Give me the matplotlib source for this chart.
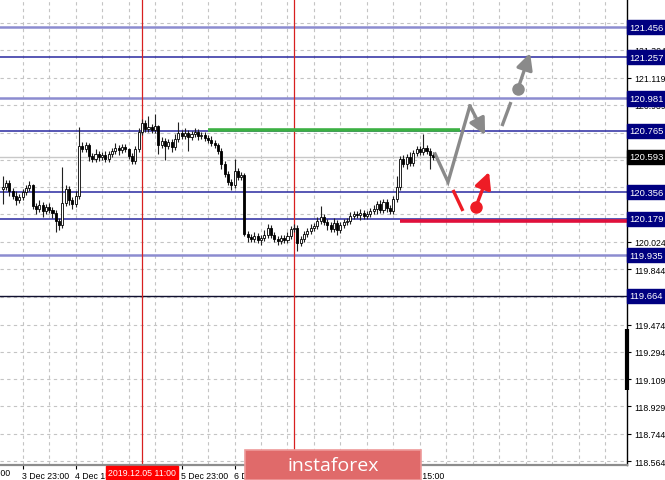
import matplotlib
matplotlib.use("Agg")
import matplotlib.pyplot as plt
from matplotlib.patches import Rectangle
import matplotlib.transforms as mtransforms

# ---- data (H1 candles, index 0 = 3 Dec 17:00) ----
first_open = 120.380
closes = [
    120.391, 120.417, 120.364, 120.331, 120.304, 120.324, 120.357, 120.384, 120.404, 120.264,
    120.244, 120.271, 120.231, 120.257, 120.237, 120.217, 120.164, 120.137, 120.284, 120.377,
    120.304, 120.277, 120.331, 120.664, 120.644, 120.671, 120.597, 120.577, 120.611, 120.591,
    120.604, 120.577, 120.611, 120.631, 120.651, 120.637, 120.657, 120.644, 120.597, 120.564,
    120.644, 120.757, 120.817, 120.777, 120.791, 120.771, 120.797, 120.671, 120.697, 120.664,
    120.691, 120.657, 120.711, 120.751, 120.731, 120.751, 120.724, 120.744, 120.757, 120.731,
    120.737, 120.717, 120.704, 120.684, 120.671, 120.631, 120.544, 120.477, 120.424, 120.404,
    120.497, 120.457, 120.471, 120.077, 120.057, 120.044, 120.064, 120.037, 120.051, 120.071,
    120.117, 120.071, 120.044, 120.031, 120.051, 120.037, 120.064, 120.111, 120.117, 120.017,
    120.044, 120.077, 120.097, 120.117, 120.131, 120.164, 120.191, 120.157, 120.137, 120.111,
    120.151, 120.104, 120.137, 120.157, 120.164, 120.197, 120.211, 120.204, 120.217, 120.197,
    120.211, 120.231, 120.244, 120.277, 120.237, 120.291, 120.251, 120.231, 120.311, 120.391,
    120.577, 120.544, 120.591, 120.551, 120.617, 120.644, 120.624, 120.651, 120.631, 120.604,
    120.593,
]
wick_up = [
    .07, .02, .02, .02, .03, .02, .02, .02, .03, .01,
    .02, .03, .02, .02, .03, .02, .02, .02, .24, .03,
    .02, .02, .03, .13, .03, .02, .01, .02, .03, .02,
    .02, .03, .02, .02, .03, .02, .02, .02, .01, .02,
    .02, .03, .03, .02, .07, .02, .08, .01, .03, .02,
    .02, .02, .03, .07, .02, .03, .02, .02, .03, .02,
    .02, .02, .02, .03, .02, .01, .02, .02, .02, .02,
    .08, .02, .02, .01, .02, .02, .03, .02, .02, .03,
    .03, .02, .02, .02, .02, .02, .03, .02, .03, .02,
    .02, .02, .02, .03, .02, .03, .07, .02, .02, .02,
    .03, .02, .02, .02, .02, .03, .02, .02, .03, .02,
    .02, .02, .03, .02, .03, .02, .02, .02, .02, .07,
    .02, .03, .02, .03, .02, .02, .02, .09, .02, .02,
    .02,
]
wick_dn = [
    .10, .02, .03, .02, .03, .02, .02, .02, .02, .02,
    .03, .02, .04, .02, .02, .03, .07, .03, .02, .02,
    .03, .03, .02, .02, .02, .02, .03, .02, .02, .03,
    .02, .02, .02, .02, .02, .03, .02, .02, .02, .02,
    .02, .02, .02, .02, .02, .02, .02, .06, .02, .09,
    .02, .03, .02, .02, .02, .02, .09, .02, .02, .03,
    .02, .02, .02, .02, .02, .02, .03, .02, .02, .03,
    .02, .02, .02, .01, .03, .02, .02, .02, .03, .02,
    .02, .02, .02, .03, .02, .02, .02, .02, .02, .05,
    .02, .02, .02, .02, .02, .02, .02, .02, .03, .02,
    .02, .03, .02, .02, .02, .02, .02, .02, .03, .02,
    .02, .02, .02, .03, .02, .02, .03, .02, .02, .02,
    .02, .02, .03, .02, .02, .02, .02, .02, .02, .09,
    .02,
]

levels_strong = [121.456, 120.981, 119.935]
levels_thin = [121.257, 120.765, 120.356, 120.179]
level_sep = 119.664
current_price = 120.593

ytick_values = [118.564, 118.744, 118.929, 119.109, 119.294, 119.474, 119.659, 119.844,
                120.024, 120.209, 120.389, 120.569, 120.754, 120.939, 121.119, 121.304, 121.484]
xtick_pos = [6, 22, 38, 54, 70, 86, 102, 118]
xtick_labels = ["3 Dec 23:00", "4 Dec 15:00", "5 Dec 07:00", "5 Dec 23:00",
                "6 Dec 15:00", "9 Dec 07:00", "9 Dec 23:00", "10 Dec 15:00"]
cut_label = (-12, "3 Dec 07:00")
grid_x = list(range(-2, 189, 8))
red_vlines = [42, 88]
date_marker = (42, "2019.12.05 11:00")

green_line = ([62, 138], 120.773)
red_line = ([120, 189], 120.166)

gray_path_x = [130.6, 134.5, 141.1]
gray_path_y = [120.611, 120.424, 120.931]
gray_arrow1 = ((141.1, 120.931), (145.7, 120.737))
gray_dash = ([150.8, 153.5], [120.797, 120.957])
gray_dot = (155.6, 121.044)
gray_arrow2 = ((155.6, 121.044), (159.3, 121.284))
red_dash = ([136.0, 139.0], [120.371, 120.231])
red_dot = (142.9, 120.257)
red_arrow = ((142.9, 120.257), (146.9, 120.491))
scale_bar = (119.444, 119.037)

# ---- figure ----
W, H = 665, 481
fig = plt.figure(figsize=(W / 100, H / 100), dpi=100)
fig.patch.set_facecolor("white")
ax = fig.add_axes([0, (H - 466) / H, 627 / W, 466 / H])
ax.set_xlim(-0.858, 188.57)
ax.set_ylim(121.644 - 466 / 150, 121.644)

font = "Liberation Sans"
gcol = "#c4c4c4"

# grid
for gx in grid_x:
    ax.axvline(gx, color=gcol, lw=0.8, ls=(0, (3, 3)), zorder=0)
for gy in ytick_values:
    ax.axhline(gy, color=gcol, lw=0.8, ls=(0, (3, 3)), zorder=0)

# levels
for lv in levels_strong:
    ax.axhline(lv, color="#8c8cd0", lw=1.8, zorder=1)
for lv in levels_thin:
    ax.axhline(lv, color="#2a2aa0", lw=1.1, zorder=1)
ax.axhline(level_sep, color="#101030", lw=1.0, zorder=1)
ax.axhline(current_price, color="#c8c8c8", lw=1.0, zorder=1)

for vx in red_vlines:
    ax.axvline(vx, color="#d82020", lw=0.9, zorder=1)

# candles
opens = [first_open] + closes[:-1]
for i, (o, c, wu, wd) in enumerate(zip(opens, closes, wick_up, wick_dn)):
    top, bot = max(o, c), min(o, c)
    ax.vlines(i, bot - wd, top + wu, color="#202020", lw=0.8, zorder=3)
    fc = "white" if c >= o else "black"
    ax.bar(i, max(top - bot, 0.004), bottom=bot, width=0.62, color=fc,
           edgecolor="black", linewidth=0.6, zorder=4)

# support / resistance marks
ax.plot(green_line[0], [green_line[1]] * 2, color="#3cb043", lw=2.6, zorder=5,
        solid_capstyle="butt")
ax.plot(red_line[0], [red_line[1]] * 2, color="#e0103c", lw=2.6, zorder=5,
        solid_capstyle="butt", clip_on=True)

# forecast
gray = "#8a8a8a"
ax.plot(gray_path_x, gray_path_y, color=gray, lw=2.4, zorder=6, solid_joinstyle="miter")
ax.annotate("", xy=gray_arrow1[1], xytext=gray_arrow1[0],
            arrowprops=dict(arrowstyle="-|>,head_length=0.7,head_width=0.35",
                            color=gray, lw=2.4, mutation_scale=14, shrinkA=0, shrinkB=0),
            zorder=6)
ax.plot(*gray_dash, color=gray, lw=2.4, zorder=6, solid_capstyle="butt")
ax.plot(*gray_dot, "o", color=gray, ms=8, zorder=6)
ax.annotate("", xy=gray_arrow2[1], xytext=gray_arrow2[0],
            arrowprops=dict(arrowstyle="-|>,head_length=0.7,head_width=0.35",
                            color=gray, lw=2.4, mutation_scale=14, shrinkA=0, shrinkB=0),
            zorder=6)
red = "#ee1c25"
ax.plot(*red_dash, color=red, lw=2.4, zorder=6, solid_capstyle="butt")
ax.plot(*red_dot, "o", color=red, ms=8, zorder=6)
ax.annotate("", xy=red_arrow[1], xytext=red_arrow[0],
            arrowprops=dict(arrowstyle="-|>,head_length=0.7,head_width=0.35",
                            color=red, lw=2.4, mutation_scale=14, shrinkA=0, shrinkB=0),
            zorder=6)

# axes frame
for s in ["top", "left"]:
    ax.spines[s].set_visible(False)
ax.spines["right"].set_color("black")
ax.spines["right"].set_linewidth(1.0)
ax.spines["bottom"].set_color("#8c8c8c")
ax.spines["bottom"].set_linewidth(1.6)

ax.yaxis.tick_right()
ax.set_yticks(ytick_values)
ax.set_yticklabels([f"{v:.3f}" for v in ytick_values], fontfamily=font, fontsize=6.3)
ax.tick_params(axis="y", length=3, width=0.8, pad=2, colors="black")
ax.set_xticks(xtick_pos)
ax.set_xticklabels(xtick_labels, fontfamily=font, fontsize=6.3, ha="left")
ax.tick_params(axis="x", length=3, width=0.8, pad=1.0, colors="black")
for lab in ax.get_xticklabels():
    lab.set_transform(lab.get_transform() + mtransforms.ScaledTranslation(-1 / 100, 0, fig.dpi_scale_trans))

xb = ax.get_xaxis_transform()
ax.text(cut_label[0], -0.016, cut_label[1], transform=xb, fontfamily=font, fontsize=6.3,
        ha="left", va="center", clip_on=False)
ax.text(date_marker[0], -0.016, date_marker[1], transform=xb, fontfamily=font, fontsize=6.3,
        ha="center", va="center", color="white", clip_on=False, zorder=10,
        bbox=dict(boxstyle="square,pad=0.25", fc="#ff0000", ec="#ff0000"))

# price boxes on the right axis
yb = ax.get_yaxis_transform()
for lv in levels_strong + levels_thin + [level_sep]:
    ax.text(1.004, lv, f"{lv:.3f}", transform=yb, fontfamily=font, fontsize=6.8,
            color="white", ha="left", va="center", clip_on=False, zorder=10,
            bbox=dict(boxstyle="square,pad=0.28", fc="#000080", ec="#000080"))
ax.text(1.004, current_price, f"{current_price:.3f}", transform=yb, fontfamily=font,
        fontsize=6.8, color="white", ha="left", va="center", clip_on=False, zorder=10,
        bbox=dict(boxstyle="square,pad=0.28", fc="black", ec="black"))
ax.plot([1.0, 1.0], scale_bar, transform=yb, color="black", lw=3, clip_on=False,
        solid_capstyle="butt", zorder=10)

# watermark box
fig.add_artist(Rectangle((245 / W, 0), 176 / W, 30 / H, transform=fig.transFigure,
                         fc="#e06a6a", ec="#ee9a9a", lw=1.2, zorder=20))
fig.text(333 / W, 15 / H, "instaforex", color="white", fontsize=14,
         fontfamily="Open Sans", ha="center", va="center", zorder=21)

fig.savefig("out.png", dpi=100)
